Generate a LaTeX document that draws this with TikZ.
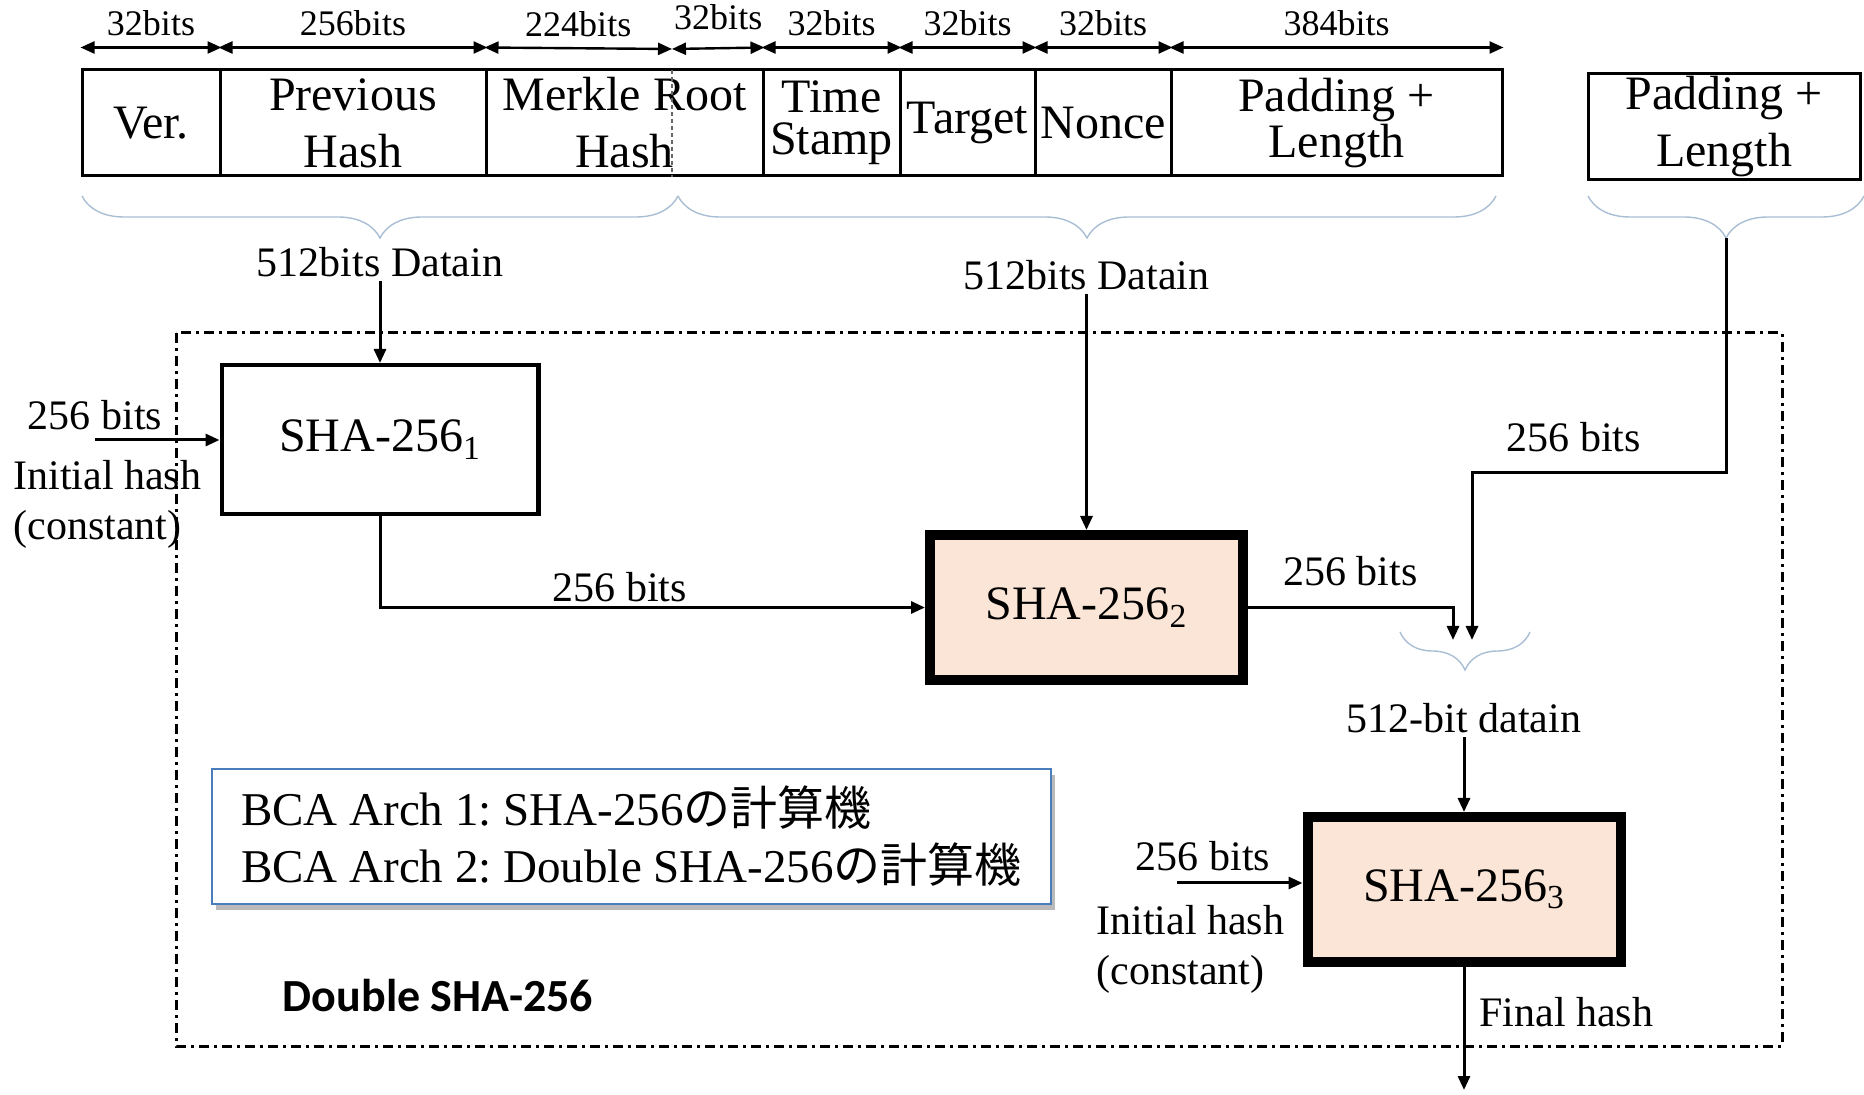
\documentclass[tikz,border=0pt]{standalone}
\usepackage{fontspec}
\setmainfont{Liberation Serif}
\newfontfamily\cjk{Noto Sans CJK JP}
\newfontfamily\calibri{Carlito}
\usepackage{tikz}
\usetikzlibrary{
  positioning,
  arrows.meta,
  decorations.pathreplacing,
  shadows,
  calc
}
\definecolor{peach}{HTML}{FBE5D6}
\definecolor{bracec}{HTML}{A9BED4}
\definecolor{infoblue}{HTML}{4A7EBB}

\begin{document}
\begin{tikzpicture}[
  x=0.5pt, y=-0.5pt,
  field/.style={draw, line width=1.5pt, minimum height=53pt, inner sep=0pt,
                align=center, font=\fontsize{24}{28.5}\selectfont},
  fieldtight/.style={field, font=\fontsize{24}{21}\selectfont},
  hashbox/.style={draw, line width=2.2pt, minimum width=158.3pt, minimum height=74.3pt,
                  font=\fontsize{24}{28}\selectfont},
  bighash/.style={hashbox, line width=5pt, fill=peach, minimum width=156.5pt,
                  minimum height=72.5pt},
  lbl/.style={inner sep=2pt, font=\fontsize{21}{25}\selectfont},
  bitlbl/.style={inner sep=2pt, font=\fontsize{18}{21}\selectfont},
  arr/.style={-{Triangle[length=7pt,width=6pt]}, line width=1.5pt},
  bitarr/.style={{Triangle[length=7pt,width=6pt]}-{Triangle[length=7pt,width=6pt]},
                 line width=1.2pt},
  brc/.style={draw=bracec, line width=0.7pt, decorate,
              decoration={brace, mirror, amplitude=#1}},
  brc/.default=21pt,
  frame/.style={line width=1.5pt,
                dash pattern=on 5pt off 2.5pt on 1.5pt off 2.5pt},
  info/.style={draw=infoblue, line width=0.8pt, fill=white, minimum width=419.5pt,
               minimum height=67.5pt, align=left,
               font=\fontsize{23.5}{28.5}\selectfont\frenchspacing,
               drop shadow={shadow xshift=2pt, shadow yshift=-3pt, fill=black!45, opacity=0.6}}
]
  \useasboundingbox (0,0) rectangle (1864,1095);

  \draw[frame] (176,333) rectangle (1782,1046);

  \node[field, minimum width=69pt] (ver) at (151,123) {Ver.};
  \node[field, minimum width=133pt] (prev) at (353,123) {Previous\\Hash};
  \node[field, minimum width=138.5pt] (merkle) at (624.5,123) {Merkle Root\\Hash};
  \node[fieldtight, minimum width=68.5pt] (time) at (831.5,123) {Time\\Stamp};
  \node[field, minimum width=67.5pt] (target) at (967.5,123) {Target};
  \node[field, minimum width=68pt] (nonce) at (1103,123) {Nonce};
  \node[fieldtight, minimum width=165.5pt] (pad) at (1336.5,123) {Padding +\\Length};
  \node[field, minimum width=136pt] (pad2) at (1724,127) {Padding +\\Length};

  \coordinate (mksplit) at (672,70);
  \draw[black!60, line width=0.6pt, dash pattern=on 2pt off 1.5pt] (mksplit) -- (mksplit |- merkle.south);

  \draw[bitarr] ([yshift=10.5pt]ver.north west) -- node[bitlbl, above=3pt] (b1) {32bits} ([yshift=10.5pt]ver.north east);
  \draw[bitarr] ([yshift=10.5pt]prev.north west) -- node[bitlbl, above=3pt] (b2) {256bits} ([yshift=10.5pt]prev.north east);
  \draw[bitarr] ([yshift=10.5pt]merkle.north west) -- node[bitlbl, above=3pt] (b3) {224bits} ([yshift=10.5pt]mksplit);
  \draw[bitarr] ([yshift=10.5pt]mksplit) -- node[bitlbl, above=6.5pt] (b4) {32bits} ([yshift=10.5pt]merkle.north east);
  \draw[bitarr] ([yshift=10.5pt]time.north west) -- node[bitlbl, above=3pt] (b5) {32bits} ([yshift=10.5pt]time.north east);
  \draw[bitarr] ([yshift=10.5pt]target.north west) -- node[bitlbl, above=3pt] (b6) {32bits} ([yshift=10.5pt]target.north east);
  \draw[bitarr] ([yshift=10.5pt]nonce.north west) -- node[bitlbl, above=3pt] (b7) {32bits} ([yshift=10.5pt]nonce.north east);
  \draw[bitarr] ([yshift=10.5pt]pad.north west) -- node[bitlbl, above=3pt] (b8) {384bits} ([yshift=10.5pt]pad.north east);

  \draw[brc] (82,196) -- (678,196);
  \draw[brc] (678,196) -- (1496,196);
  \draw[brc] (1588,196) -- (1864,196);
  \coordinate (tip3) at (1726,238);

  \node[lbl] (din1) at (380,262) {512bits Datain};
  \node[lbl] (din2) at (1086.5,275) {512bits Datain};

  \node[hashbox] (sha1) at (380,439.5) {SHA-256\textsubscript{1}};
  \node[bighash] (sha2) at (1086.5,607.5) {SHA-256\textsubscript{2}};
  \node[bighash] (sha3) at (1464,889.5) {SHA-256\textsubscript{3}};

  \draw[arr] (din1) -- (sha1);
  \draw[arr] (din2) -- (sha2);

  \coordinate (ih1) at (95,440);
  \node[lbl] (ih1lbl) at (95,415) {256 bits};
  \node[lbl, align=left, anchor=west] (ih1txt) at (9,504) {Initial hash\\(constant)};
  \draw[arr] (ih1) -- (ih1 -| sha1.west);

  \draw[arr] (sha1.south) |- node[lbl, pos=0.72, above] (l12) {256 bits} (sha2.west);

  \coordinate (in2a) at (1453,640);
  \coordinate (in2b) at (1472,640);
  \coordinate (bend) at (1472,473);
  \draw[arr] (sha2.east) -| node[lbl, pos=0.25, above=8pt] (l2m) {256 bits} (in2a);
  \draw[arr] (tip3) |- node[lbl, pos=0.8, above=8pt] (lpm) {256 bits} (bend) -- (in2b);

  \draw[brc=19pt] (1400,632) -- (1530,632);
  \node[lbl] (din3) at (1464,718) {512-bit datain};
  \draw[arr] (din3) -- (sha3);

  \coordinate (ih3) at (1177,883);
  \node[lbl] (ih3lbl) at (1203,856) {256 bits};
  \node[lbl, align=left, anchor=west] (ih3txt) at (1092,949) {Initial hash\\(constant)};
  \draw[arr] (ih3) -- (ih3 -| sha3.west);

  \coordinate (out3) at (1464,1090);
  \draw[arr] (sha3.south) -- (out3);
  \node[lbl, anchor=west] (finlbl) at (1475,1012) {Final hash};

  \node[font=\calibri\bfseries\fontsize{23}{27}\selectfont] (dbl) at (438,996) {Double SHA-256};

  \node[info] (note) at (631.5,836.5) {BCA Arch 1: SHA-256{\cjk の計算機}\\BCA Arch 2: Double SHA-256{\cjk の計算機}};
\end{tikzpicture}
\end{document}
